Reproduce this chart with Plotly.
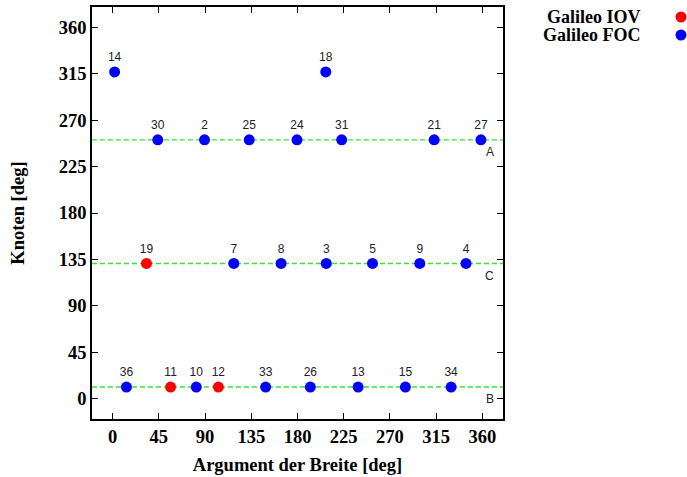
import plotly.graph_objects as go

# Plane A
a_ids = ["14", "18", "30", "2", "25", "24", "31", "21", "27"]
a_lat = [2, 207.5, 44, 89.5, 133, 179.5, 223, 313, 358.5]
a_node = [317, 317, 251, 251, 251, 251, 251, 251, 251]
# Plane C
c_ids = ["19", "7", "8", "3", "5", "9", "4"]
c_lat = [33, 118, 164, 208, 253, 299, 344]
c_node = [131, 131, 131, 131, 131, 131, 131]
# Plane B
b_ids = ["36", "11", "10", "12", "33", "26", "13", "15", "34"]
b_lat = [13.5, 56.5, 81.5, 103, 149, 192.5, 239, 285, 329.5]
b_node = [11, 11, 11, 11, 11, 11, 11, 11, 11]

iov_ids = {"19", "11", "12"}

plane_names = ["A", "C", "B"]
plane_levels = [251, 131, 11]
plane_label_y = [239, 119, -1]

ticks = [0, 45, 90, 135, 180, 225, 270, 315, 360]

ids = a_ids + c_ids + b_ids
lat = a_lat + c_lat + b_lat
node = a_node + c_node + b_node

iov_x = [x for x, i in zip(lat, ids) if i in iov_ids]
iov_y = [y for y, i in zip(node, ids) if i in iov_ids]
iov_t = [i for i in ids if i in iov_ids]
foc_x = [x for x, i in zip(lat, ids) if i not in iov_ids]
foc_y = [y for y, i in zip(node, ids) if i not in iov_ids]
foc_t = [i for i in ids if i not in iov_ids]

fig = go.Figure()

for lvl in plane_levels:
    fig.add_trace(go.Scatter(x=[-20, 380], y=[lvl, lvl], mode="lines",
                             line=dict(color="#33e633", dash="5px,3px", width=1.4),
                             showlegend=False, hoverinfo="skip"))

lblfont = dict(family="Liberation Sans", size=12, color="#222222")
fig.add_trace(go.Scatter(x=iov_x, y=iov_y, text=iov_t, mode="markers+text",
                         textposition="top center", textfont=lblfont,
                         marker=dict(color="#ff0000", size=11),
                         name="Galileo IOV", showlegend=False))
fig.add_trace(go.Scatter(x=foc_x, y=foc_y, text=foc_t, mode="markers+text",
                         textposition="top center", textfont=lblfont,
                         marker=dict(color="#0000ff", size=11),
                         name="Galileo FOC", showlegend=False))

for n, yl in zip(plane_names, plane_label_y):
    fig.add_annotation(x=367, y=yl, text=n, showarrow=False,
                       font=dict(family="Liberation Sans", size=12, color="#222222"))

# manual legend (gnuplot style: text then marker)
PW, PH, L, T = 411, 412, 92, 7
leg_names = ["Galileo IOV", "Galileo FOC"]
leg_colors = ["#ff0000", "#0000ff"]
leg_y = [17, 35]
for nm, col, yy in zip(leg_names, leg_colors, leg_y):
    fig.add_annotation(xref="paper", yref="paper", x=(642 - L) / PW,
                       y=1 - (yy - T) / PH, xanchor="right", yanchor="middle",
                       text=nm, showarrow=False, borderpad=0,
                       font=dict(family="Liberation Serif", size=18, color="black", weight="bold"))
    cx = (681 - L) / PW
    cy = 1 - (yy - T) / PH
    r = 5.5
    fig.add_shape(type="circle", xref="paper", yref="paper",
                  x0=cx - r / PW, x1=cx + r / PW, y0=cy - r / PH, y1=cy + r / PH,
                  fillcolor=col, line=dict(width=0))

axfont = dict(family="Liberation Serif", size=18.5, color="black", weight="bold")
fig.update_xaxes(range=[-20, 380], tickvals=ticks, ticks="inside", ticklen=6,
                 tickcolor="black", showline=True, linecolor="black", linewidth=1.5,
                 mirror="ticks", showgrid=False, zeroline=False, tickfont=axfont,
                 automargin=False,
                 title=dict(text="Argument der Breite [deg]", font=axfont, standoff=12))
fig.update_yaxes(range=[-20, 380], tickvals=ticks, ticks="inside", ticklen=6,
                 tickcolor="black", showline=True, linecolor="black", linewidth=1.5,
                 mirror="ticks", showgrid=False, zeroline=False, tickfont=axfont,
                 automargin=False,
                 title=dict(text="Knoten [deg]", font=axfont, standoff=29))

fig.update_layout(width=687, height=477, plot_bgcolor="white", paper_bgcolor="white",
                  margin=dict(l=92, r=184, t=7, b=58, autoexpand=False), showlegend=False)

fig.write_html("out.html", config={"displayModeBar": False},
               post_script="document.body.style.margin='0';")
